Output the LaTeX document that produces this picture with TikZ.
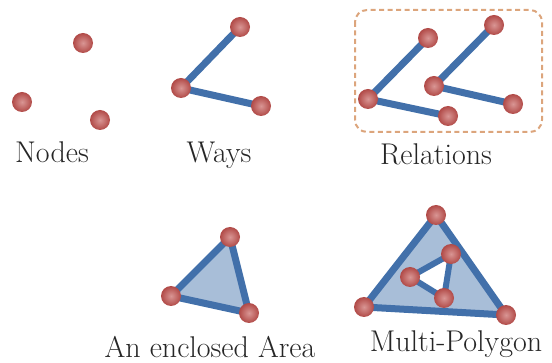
\documentclass[tikz,border=0pt]{standalone}
\usepackage{tikz}
\usetikzlibrary{backgrounds}
\definecolor{rojo}{HTML}{C0504D}
\definecolor{azul}{HTML}{4270AA}
\definecolor{celeste}{HTML}{A8BED8}
\definecolor{naranja}{HTML}{DCA57C}
\tikzset{
  punto/.style={circle,draw=none,inner sep=0pt,minimum size=20pt,inner color=rojo!60!white,outer color=rojo!92!black},
  via/.style={draw=azul,line width=7pt,line join=round,line cap=round},
  area/.style={fill=celeste,draw=azul,line width=7pt,line join=round},
  marco/.style={draw=naranja,dashed,dash pattern=on 5pt off 3.5pt,line width=2pt,rounded corners=12pt},
  rotulo/.style={anchor=base,inner sep=0pt,font=\fontsize{30}{36}\selectfont,color=black!85},
}

\begin{document}
\begin{tikzpicture}[x=1pt,y=-1pt]
  \useasboundingbox (0,0) rectangle (552,363);
  % nodos sueltos
  \node[punto] (n1) at (83,43) {};
  \node[punto] (n2) at (22,102) {};
  \node[punto] (n3) at (100,120) {};
  \node[rotulo] (tn) at (52,163) {Nodes};
  % via
  \node[punto] (w1) at (240,27) {};
  \node[punto] (w2) at (181,88) {};
  \node[punto] (w3) at (261,106) {};
  \node[rotulo] (tw) at (219,163) {Ways};
  % relacion: dos vias en un marco
  \node[punto] (r1) at (428,38) {};
  \node[punto] (r2) at (368,99) {};
  \node[punto] (r3) at (448,116) {};
  \node[punto] (r4) at (494,25) {};
  \node[punto] (r5) at (434,86) {};
  \node[punto] (r6) at (513,104) {};
  \node[rotulo] (tr) at (436,165) {Relations};
  % area cerrada
  \node[punto] (a1) at (230,237) {};
  \node[punto] (a2) at (171,296) {};
  \node[punto] (a3) at (249,313) {};
  \node[rotulo] (ta) at (210,358) {An enclosed Area};
  % multipoligono
  \node[punto] (m1) at (436,215) {};
  \node[punto] (m2) at (364,307) {};
  \node[punto] (m3) at (506,315) {};
  \node[punto] (m4) at (451,254) {};
  \node[punto] (m5) at (410,277) {};
  \node[punto] (m6) at (444,298) {};
  \node[rotulo] (tm) at (456,352) {Multi-Polygon};
  \begin{scope}[on background layer]
    \draw[via] (w1.center) -- (w2.center) -- (w3.center);
    \draw[via] (r1.center) -- (r2.center) -- (r3.center);
    \draw[via] (r4.center) -- (r5.center) -- (r6.center);
    \draw[marco] (355,10) rectangle (542,132);
    \draw[area] (a1.center) -- (a2.center) -- (a3.center) -- cycle;
    \draw[area] (m1.center) -- (m2.center) -- (m3.center) -- cycle;
    \fill[white] (m4.center) -- (m5.center) -- (m6.center) -- cycle;
    \draw[via,line width=6pt,line cap=butt] (m4.center) -- (m5.center) -- (m6.center) -- cycle;
  \end{scope}
\end{tikzpicture}
\end{document}
